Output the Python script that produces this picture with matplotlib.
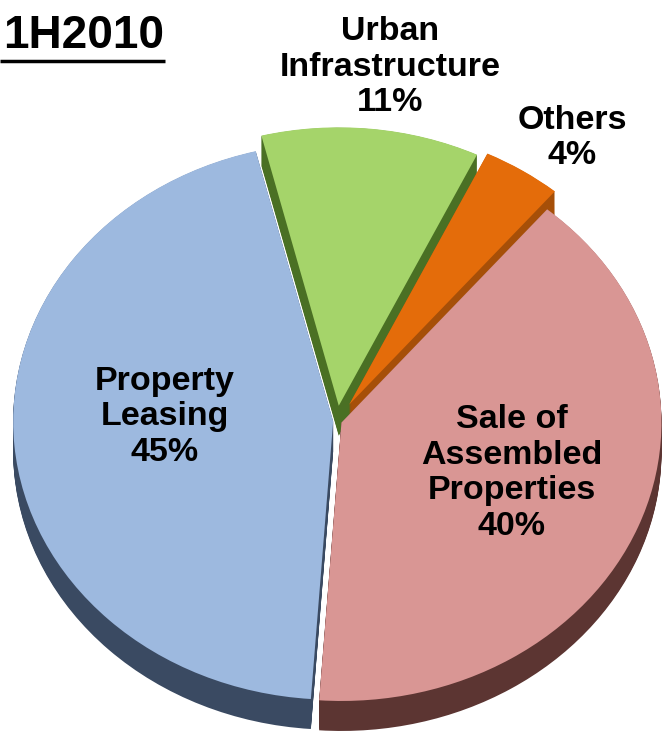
import matplotlib
matplotlib.use("Agg")
import matplotlib.pyplot as plt
import numpy as np

# ---- data ----
categories = ["Urban\nInfrastructure", "Others", "Sale of\nAssembled\nProperties", "Property\nLeasing"]
shares = [11, 4, 40, 45]
title_text = "1H2010"

# ---- style ----
top_colors = ["#A5D46A", "#E46C0A", "#D99694", "#9DB9DF"]
side_colors = ["#4A7024", "#A64F08", "#5C3532", "#3A4A62"]
explode_frac = [0.055, 0.07, 0.015, 0.012]

W, H = 663, 735
fig = plt.figure(figsize=(W / 100, H / 100), dpi=100)
ax = fig.add_axes([0, 0, 1, 1])

s = 0.87                      # vertical squash (tilt)
def ydat(yp):                 # pixel row -> data y
    return (H - yp) / s

cx, cy_pix, R = 337, 421, 320
cy = ydat(cy_pix)
depth = 30 / s
explode = [e * R for e in explode_frac]

# side (thickness) layers
for d in np.linspace(depth, 0.5, 30):
    ax.pie(shares, radius=R, center=(cx, cy - d), startangle=104, counterclock=False,
           explode=explode, colors=side_colors, wedgeprops=dict(linewidth=0, antialiased=True))

# top surface
wedges, _ = ax.pie(shares, radius=R, center=(cx, cy), startangle=104, counterclock=False,
                   explode=explode, colors=top_colors,
                   wedgeprops=dict(linewidth=0, antialiased=True))

ax.set_aspect("auto")
ax.set_xlim(0, W)
ax.set_ylim(0, H / s)
ax.axis("off")

font = dict(family="Liberation Sans", weight="bold", fontsize=24.5, color="black",
            ha="center", va="center", linespacing=1.2)

labels = [f"{c}\n{v}%" for c, v in zip(categories, shares)]
label_pos = [(390, 67), (572, 138), (512, 473), (165, 417)]
for lab, (xp, yp) in zip(labels, label_pos):
    ax.text(xp, ydat(yp), lab, **font)

ax.text(3, ydat(36), title_text, family="Liberation Sans", weight="bold",
        fontsize=33, ha="left", va="center", color="black")
ax.plot([0, 165], [ydat(61), ydat(61)], color="black", lw=2.5, solid_capstyle="butt")

fig.savefig("out.png", dpi=100)
